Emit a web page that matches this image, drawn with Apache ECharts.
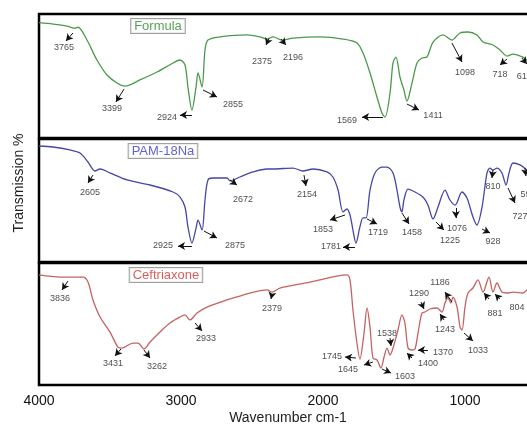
<!DOCTYPE html>
<html>
<head>
<meta charset="utf-8">
<script src="https://cdn.jsdelivr.net/npm/echarts@6/dist/echarts.min.js"></script>
<style>html,body{margin:0;padding:0;background:#fff}#c{width:527px;height:425px}</style>
</head>
<body>
<div id="c"></div>
<script>
// ---------- data ----------
const xTicks = [4000, 3000, 2000, 1000];
const panelNames = ['Formula', 'PAM-18Na', 'Ceftriaxone'];

const formulaX = [4000,3901,3803,3746,3725,3662,3592,3521,3451,3394,3289,3169,3056,3007,2972,2951,2923,2894,2880,2852,2831,2810,2725,2535,2444,2394,2352,2289,2211,2021,1859,1761,1718,1669,1620,1585,1563,1528,1507,1486,1458,1430,1409,1373,1338,1303,1268,1225,1155,1092,1035,979,916,873,803,754,704,662,592,564,520,460,400];
const formulaT = [93.0,91.9,90.3,88.5,89.3,79.0,62.9,50.8,44.4,41.9,46.8,53.2,60.5,62.9,58.9,41.1,22.6,41.1,52.4,41.1,71.0,79.0,81.5,83.1,81.5,79.8,81.5,79.0,80.6,81.5,79.8,76.6,68.5,52.4,33.1,20.2,16.9,36.3,60.5,65.3,49.2,38.7,29.8,44.4,60.5,64.5,65.3,77.4,83.1,79.0,84.7,85.5,83.1,77.4,75.0,71.0,66.1,67.7,65.3,62.9,64,66,66];

const pamX = [4000,3901,3782,3711,3655,3606,3570,3500,3380,3218,3056,3007,2972,2951,2923,2894,2880,2852,2831,2810,2775,2676,2655,2585,2493,2394,2352,2211,2141,2070,1972,1930,1894,1859,1831,1810,1789,1768,1740,1718,1697,1669,1634,1585,1549,1507,1479,1458,1444,1430,1401,1352,1296,1261,1225,1190,1141,1106,1070,1021,986,944,916,880,845,824,803,775,740,711,690,662,613,564,520,460,400];
const pamT = [94.3,93.5,91.1,88.6,81.3,74.0,75.6,72.4,66.7,62.6,56.9,52.8,44.7,28.5,15.4,27.6,34.1,26.0,50.4,66.7,68.3,68.3,65.9,69.1,73.2,75.6,75.6,76.4,74.0,75.6,73.2,69.1,58.5,40.7,43.1,38.2,26.0,15.4,28.5,35.8,35.8,58.5,72.4,77.2,77.2,72.4,58.5,44.7,40.7,50.4,59.3,56.9,52.8,46.3,35.0,44.7,58.5,50.4,46.3,56.9,52.0,36.6,30.1,44.7,72.4,76.4,74.8,76.4,72.4,62.6,72.4,80.5,78.9,74.8,70,72,74];

const ceftX = [4000,3852,3690,3655,3620,3570,3500,3444,3416,3338,3303,3261,3218,3148,3078,3007,2972,2937,2887,2817,2676,2514,2394,2359,2303,2092,1901,1831,1810,1789,1761,1740,1711,1690,1669,1648,1620,1592,1570,1549,1528,1507,1472,1444,1423,1401,1373,1352,1331,1303,1282,1247,1197,1162,1141,1120,1099,1085,1056,1035,1021,1000,979,944,909,873,831,803,775,740,704,662,592,564,520,460,400];
const ceftT = [90.2,88.5,88.5,84.4,69.7,55.7,43.4,31.1,30.3,34.4,34.4,29.5,35.2,43.4,50.8,55.7,57.4,53.3,59.0,63.9,69.7,75.4,77.9,76.2,79.5,84.4,89.3,90.2,86.1,61.5,34.4,21.3,42.6,63.1,47.5,22.1,20.5,13.9,23.0,30.3,24.6,30.3,45.1,57.4,50.8,30.3,28.7,29.5,42.6,59.0,59.8,62.3,63.1,59.8,67.2,71.3,67.2,72.1,63.9,47.5,45.1,63.9,75.4,79.5,86.1,76.2,88.5,76.2,83.6,76.2,75.4,76.2,75.4,77.9,80,82,82];

// peak labels: [wavenumber, T, text]
const formulaPeaks = [[3824,72.6,'3765'],[3486,23.4,'3399'],[3099,16.9,'2924'],[2634,27.4,'2855'],[2430,61.3,'2375'],[2211,65.3,'2196'],[1831,14.5,'1569'],[1225,18.5,'1411'],[1000,53.2,'1098'],[754,50.8,'718'],[583,49.2,'617']];
const pamPeaks = [[3641,56.1,'2605'],[3127,13.0,'2925'],[2620,13.0,'2875'],[2563,51.2,'2672'],[2113,54.5,'2154'],[2000,26.8,'1853'],[1944,12.2,'1781'],[1613,23.6,'1719'],[1373,23.6,'1458'],[1106,17.1,'1225'],[1057,27.6,'1076'],[803,16.3,'928'],[803,61.0,'810'],[613,36.6,'727'],[556,54.5,'596']];
const ceftPeaks = [[3852,70.5,'3836'],[3479,18.0,'3431'],[3169,14.8,'3262'],[2824,37.7,'2933'],[2359,62.3,'2379'],[1937,23.0,'1745'],[1824,12.3,'1645'],[1423,6.6,'1603'],[1549,42.6,'1538'],[1261,18.0,'1400'],[1155,27.0,'1370'],[1324,74.6,'1290'],[1141,45.1,'1243'],[1176,83.6,'1186'],[909,27.9,'1033'],[789,59.0,'881'],[634,63.9,'804']];

// arrows: [fromW, fromT, toW, toT]
const formulaArrows = [[3761,84.7,3810,78.2],[3401,39.5,3458,29.0],[2923,18.5,3007,18.5],[2845,38.7,2747,33.1],[2380,80.6,2401,75.0],[2296,79.8,2261,75.0],[1578,16.9,1725,16.9],[1409,27.4,1324,22.6],[1092,76.6,1021,61.3],[704,63.7,754,58.9],[599,64.5,564,59.7]];
const pamArrows = [[3620,70.7,3655,64.2],[2923,13.0,3021,13.0],[2838,25.2,2747,19.5],[2655,66.7,2606,62.6],[2134,70.7,2120,61.8],[1845,38.2,1951,34.1],[1775,12.2,1859,12.2],[1690,35.0,1620,30.9],[1444,39.8,1394,30.9],[1204,32.5,1148,26.0],[1064,43.9,1064,35.8],[880,26.8,824,23.6],[803,74.8,810,68.3],[697,60.2,648,48.0],[578,76.4,571,69.9]];
const ceftArrows = [[3796,85.2,3838,77.9],[3423,29.5,3465,23.8],[3261,28.7,3218,22.1],[2901,50.8,2852,44.3],[2359,74.6,2366,70.5],[1768,22.1,1845,23.0],[1648,18.9,1711,16.4],[1585,13.1,1521,9.8],[1528,38.5,1521,32.0],[1373,22.1,1409,26.2],[1261,28.7,1331,28.7],[1310,68.0,1289,62.3],[1148,53.3,1176,58.2],[1092,68.0,1141,76.2],[1007,42.6,944,36.1],[831,70.5,866,75.4],[754,70.5,789,74.6]];

// panel title anchor [wavenumber, T]
const titlePos = [[3162,90.3],[3127,90.2],[3106,90.2]];

// ---------- chart ----------
const FONT = 'Liberation Sans, Arial, sans-serif';
const grids = [
  {left: 39, top: 14, width: 568, height: 124},
  {left: 39, top: 139, width: 568, height: 123},
  {left: 39, top: 263, width: 568, height: 122}
].map(g => Object.assign(g, {show: true, borderColor: '#000', borderWidth: 2.5,
  backgroundColor: '#fff', containLabel: false, outerBoundsMode: 'none'}));

const lineColors = ['#4a9a4a', '#4646a6', '#c46262'];
const titleColors = ['#2e8a2e', '#3a3ac8', '#d03535'];
const xs = [formulaX, pamX, ceftX];
const ts = [formulaT, pamT, ceftT];
const peaks = [formulaPeaks, pamPeaks, ceftPeaks];
const arrows = [formulaArrows, pamArrows, ceftArrows];

const xAxes = [0,1,2].map(i => ({
  gridIndex: i, type: 'value', inverse: true, min: 0, max: 4000, interval: 1000,
  axisLine: {show: false}, axisTick: {show: false}, splitLine: {show: false},
  axisLabel: {show: i === 2, fontSize: 14, color: '#111', margin: 9, fontFamily: FONT,
    hideOverlap: false,
    formatter: v => xTicks.includes(v) ? String(v) : ''}
}));
const yAxes = [0,1,2].map(i => ({gridIndex: i, type: 'value', min: 0, max: 100, show: false}));

const series = [];
[0,1,2].forEach(i => {
  series.push({
    type: 'line', xAxisIndex: i, yAxisIndex: i,
    data: xs[i].map((w, k) => [w, ts[i][k]]),
    showSymbol: false, smooth: 0.3, silent: true,
    lineStyle: {color: lineColors[i], width: 1.3},
    markLine: {
      silent: true, animation: false,
      symbol: ['none', 'arrow'], symbolSize: [6, 7],
      lineStyle: {color: '#111', width: 1, type: 'solid'},
      label: {show: false},
      data: arrows[i].map(a => [{coord: [a[0], a[1]]}, {coord: [a[2], a[3]]}])
    }
  });
  series.push({
    type: 'scatter', xAxisIndex: i, yAxisIndex: i, symbolSize: 0, silent: true,
    data: peaks[i],
    label: {show: true, position: 'inside', formatter: p => p.data[2],
      fontSize: 9, color: '#1a1a1a', fontFamily: FONT}
  });
  series.push({
    type: 'scatter', xAxisIndex: i, yAxisIndex: i, symbolSize: 0, silent: true,
    data: [[titlePos[i][0], titlePos[i][1], panelNames[i]]],
    label: {show: true, position: 'inside', formatter: p => p.data[2],
      fontSize: 13, color: titleColors[i], fontFamily: FONT,
      backgroundColor: '#fff', borderColor: '#888', borderWidth: 1, padding: [1, 3, 0, 3]}
  });
});

const chart = echarts.init(document.getElementById('c'), null, {renderer: 'canvas'});
chart.setOption({
  animation: false,
  backgroundColor: '#fff',
  grid: grids, xAxis: xAxes, yAxis: yAxes, series: series,
  graphic: [
    {type: 'text', x: 19, y: 183, rotation: Math.PI / 2,
      style: {text: 'Transmission %', font: '14px ' + FONT, fill: '#222', align: 'center', verticalAlign: 'middle'}},
    {type: 'text', x: 288, y: 418,
      style: {text: 'Wavenumber cm-1', font: '14px ' + FONT, fill: '#222', align: 'center', verticalAlign: 'middle'}}
  ]
});
</script>
</body>
</html>
